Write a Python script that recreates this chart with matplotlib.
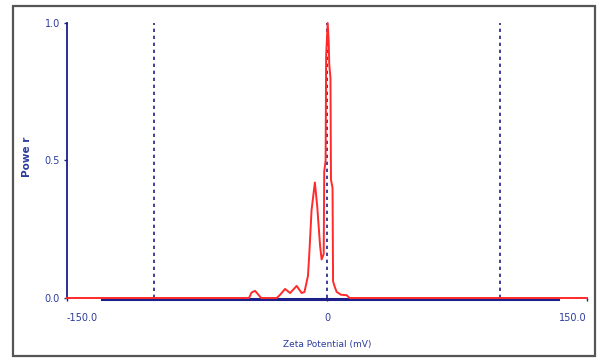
import matplotlib
matplotlib.use("Agg")
import matplotlib.pyplot as plt
from matplotlib.patches import Rectangle
from matplotlib.transforms import ScaledTranslation

# Data
zeta_mv = [-150, -45, -43.5, -41.5, -40, -38, -29, -27, -24.2, -21.3, -17.5, -14.6, -13, -11,
           -10.3, -8.9, -7, -5.6, -4, -3.1, -1.9, -1.6, -0.8, -0.5, 0.4, 1.0, 1.3, 2.0, 2.3,
           3.2, 3.5, 4.5, 5.6, 8, 11.4, 13, 150]
power = [0, 0, 0.02, 0.026, 0.015, 0, 0, 0.012, 0.033, 0.018, 0.044, 0.018, 0.022, 0.08,
         0.15, 0.32, 0.42, 0.33, 0.19, 0.14, 0.16, 0.46, 0.5, 0.88, 1.0, 0.93, 0.85, 0.8, 0.43,
         0.40, 0.06, 0.04, 0.022, 0.012, 0.01, 0, 0]
baseline_x = [-130, 133]
baseline_y = [0, 0]
marker_lines = [-100, 0, 100]
x_ticks = [-150, 0, 150]
x_tick_labels = ["-150.0", "0", "150.0"]
y_ticks = [0.0, 0.5, 1.0]
y_tick_labels = ["0.0", "0.5", "1.0"]

navy = "#1c1f8a"
txt = "#2b3c9e"

W, H = 598, 358
fig = plt.figure(figsize=(W / 100, H / 100), dpi=100)
fig.patch.set_facecolor("white")
ax = fig.add_axes([67 / W, 1 - 298 / H, 520 / W, 275 / H])

for xv in marker_lines:
    ax.plot([xv, xv], [0, 1.0], color=navy, lw=1.2, linestyle=(0, (2, 2.2)), zorder=2)

down = ax.transData + ScaledTranslation(0, -0.9 / 100, fig.dpi_scale_trans)
ax.plot(baseline_x, baseline_y, color=navy, lw=2.2, clip_on=False, zorder=3, transform=down)
ax.plot(zeta_mv, power, color="#ff2a2a", lw=1.4, clip_on=False, zorder=4)

ax.set_xlim(-150, 150)
ax.set_ylim(0, 1.0)
for s in ["top", "right", "bottom"]:
    ax.spines[s].set_visible(False)
ax.spines["left"].set_color(navy)
ax.spines["left"].set_linewidth(1.3)

ax.set_xticks(x_ticks)
ax.set_xticklabels(x_tick_labels)
ax.set_yticks(y_ticks)
ax.set_yticklabels(y_tick_labels)
ax.tick_params(axis="both", length=2, width=1, color=navy, labelcolor=txt, labelsize=7)
ax.tick_params(axis="x", pad=9)
ax.tick_params(axis="y", pad=3)
xl = ax.get_xticklabels()
xl[0].set_horizontalalignment("left")
xl[-1].set_horizontalalignment("right")

fig.text(327 / W, 1 - 345 / H, "Zeta Potential (mV)", color=txt, fontsize=6.5,
         ha="center", va="center")
fig.text(27 / W, 1 - 157 / H, "Powe r", color=txt, fontsize=7.5, fontweight="bold",
         rotation=90, ha="center", va="center")

fig.patches.append(Rectangle((13 / W, 1 - 356 / H), 582 / W, 350 / H,
                             transform=fig.transFigure, fill=False,
                             edgecolor="#555555", lw=1.6))

fig.savefig("out.png", dpi=100)
